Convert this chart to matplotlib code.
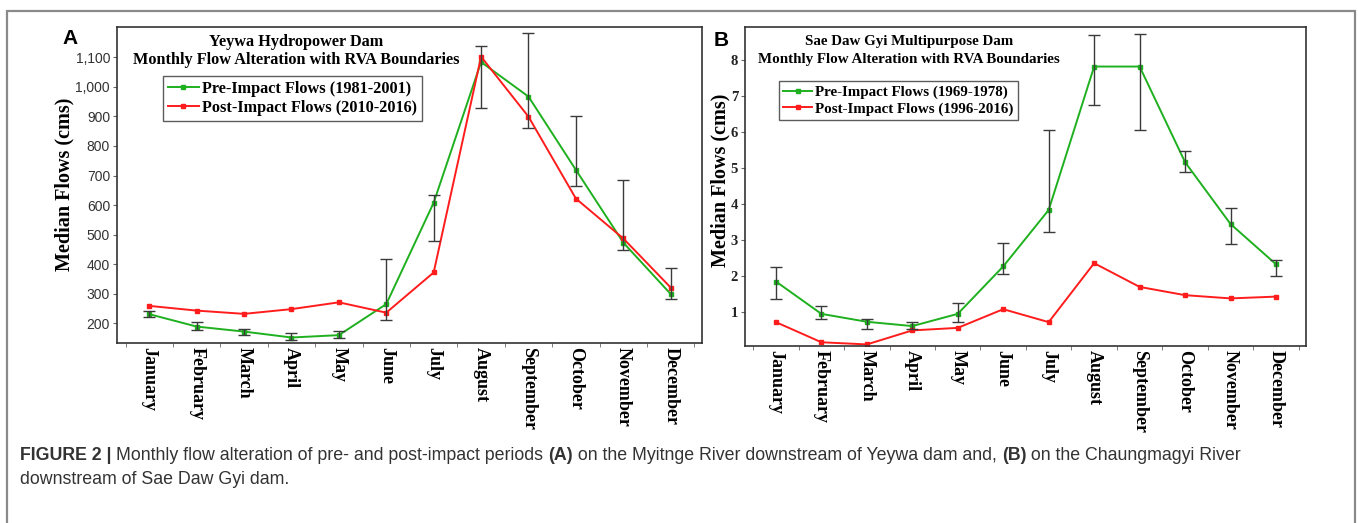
import matplotlib.pyplot as plt
import matplotlib.patches as mpatches
import numpy as np

months = ['January', 'February', 'March', 'April', 'May', 'June', 'July',
          'August', 'September', 'October', 'November', 'December']

# Yeywa dam (cms)
yeywa_pre = np.array([231, 189, 172, 152, 160, 265, 608, 1084, 967, 719, 473, 299])
yeywa_post = np.array([259, 243, 232, 248, 271, 236, 372, 1102, 899, 622, 487, 321])
yeywa_low = np.array([223, 177, 161, 144, 152, 211, 477, 927, 860, 664, 447, 282])
yeywa_high = np.array([240, 206, 180, 168, 174, 419, 635, 1139, 1181, 903, 684, 386])

# Sae Daw Gyi dam (cms)
sae_pre = np.array([1.84, 0.94, 0.72, 0.60, 0.94, 2.26, 3.83, 7.82, 7.82, 5.16, 3.44, 2.32])
sae_post = np.array([0.71, 0.15, 0.09, 0.48, 0.55, 1.07, 0.71, 2.35, 1.69, 1.46, 1.37, 1.42])
sae_low = np.array([1.34, 0.81, 0.53, 0.51, 0.72, 2.06, 3.23, 6.74, 6.05, 4.88, 2.87, 1.98])
sae_high = np.array([2.23, 1.15, 0.79, 0.71, 1.23, 2.91, 6.05, 8.70, 8.73, 5.47, 3.88, 2.43])

GREEN = '#1fb01f'
RED = '#ff1c1c'
SERIF = 'Liberation Serif'
SANS = 'Liberation Sans'

fig = plt.figure(figsize=(13.58, 5.23), dpi=100)
W, H = 1358.0, 523.0


def panel(rect, pre, post, low, high, ylim, yticks, ytl, tick_font,
          title1, title2, tx, ty1, ty2, leg_labels, leg_anchor, fs_title, fs_leg):
    ax = fig.add_axes(rect)
    x = np.arange(len(months))
    ax.errorbar(x, pre, yerr=[pre - low, high - pre], fmt='none', ecolor='#3a3a3a',
                elinewidth=1.0, capsize=4, capthick=1.0, zorder=3)
    ax.plot(x, pre, color=GREEN, lw=1.4, marker='s', ms=3.2, label=leg_labels[0], zorder=2)
    ax.plot(x, post, color=RED, lw=1.4, marker='s', ms=3.2, label=leg_labels[1], zorder=2)
    ax.set_xlim(-0.68, 11.66)
    ax.set_ylim(*ylim)
    ax.set_xticks(x)
    ax.set_xticklabels(months, rotation=270, fontfamily=SERIF, fontweight='bold', fontsize=13)
    ax.set_xticks(np.arange(-0.5, 12, 1), minor=True)
    ax.tick_params(axis='x', which='major', length=0, pad=3)
    ax.tick_params(axis='x', which='minor', length=3, color='#666')
    ax.set_yticks(yticks)
    ax.set_yticklabels(ytl, **tick_font)
    ax.tick_params(axis='y', length=3, color='#666', pad=2)
    for s in ax.spines.values():
        s.set_color('#333333')
        s.set_linewidth(1.2)
    ax.set_ylabel('Median Flows (cms)', fontfamily=SERIF, fontweight='bold', fontsize=14.5)
    ax.text(tx, ty1, title1, transform=ax.transAxes, ha='center', va='center',
            fontfamily=SERIF, fontweight='bold', fontsize=fs_title)
    ax.text(tx, ty2, title2, transform=ax.transAxes, ha='center', va='center',
            fontfamily=SERIF, fontweight='bold', fontsize=fs_title)
    leg = ax.legend(loc='upper left', bbox_to_anchor=leg_anchor, frameon=True, fancybox=False,
                    prop={'family': SERIF, 'weight': 'bold', 'size': fs_leg},
                    handlelength=1.9, handletextpad=0.2, borderpad=0.3, labelspacing=0.2,
                    borderaxespad=0)
    leg.get_frame().set_edgecolor('#333333')
    leg.get_frame().set_linewidth(1.0)
    return ax


axA = panel([117 / W, 1 - 343 / H, 585 / W, 316 / H], yeywa_pre, yeywa_post, yeywa_low, yeywa_high,
            (133.4, 1202.5), np.arange(200, 1101, 100),
            ['{:,}'.format(v) for v in range(200, 1101, 100)],
            {'fontfamily': SANS, 'fontsize': 10, 'color': '#333333'},
            'Yeywa Hydropower Dam', 'Monthly Flow Alteration with RVA Boundaries',
            0.307, 0.953, 0.897,
            ['Pre-Impact Flows (1981-2001)', 'Post-Impact Flows (2010-2016)'],
            (0.0786, 0.845), 11.7, 11.7)
axA.yaxis.set_label_coords(-0.073, 0.503)

axB = panel([745 / W, 1 - 346 / H, 561 / W, 319 / H], sae_pre, sae_post, sae_low, sae_high,
            (0.046, 8.92), np.arange(1, 9), [str(v) for v in range(1, 9)],
            {'fontfamily': SERIF, 'fontweight': 'bold', 'fontsize': 10.5, 'color': '#222222'},
            'Sae Daw Gyi Multipurpose Dam', 'Monthly Flow Alteration with RVA Boundaries',
            0.292, 0.953, 0.897,
            ['Pre-Impact Flows (1969-1978)', 'Post-Impact Flows (1996-2016)'],
            (0.0606, 0.831), 10.8, 10.8)
axB.yaxis.set_label_coords(-0.025, 0.52)

# panel letters
fig.text(70 / W, 1 - 38 / H, 'A', fontfamily=SANS, fontweight='bold', fontsize=15, ha='center', va='center')
fig.text(721 / W, 1 - 40 / H, 'B', fontfamily=SANS, fontweight='bold', fontsize=15, ha='center', va='center')

# outer frame, open at the bottom
fig.add_artist(mpatches.Rectangle((7 / W, -0.2), (1355 - 7) / W, 1.2 - 11 / H, transform=fig.transFigure,
                                  fill=False, edgecolor='#8a8a8a', lw=1.6))

# caption, first line built from normal and bold pieces
pieces = [('FIGURE 2 | ', 'bold'),
          ('Monthly flow alteration of pre- and post-impact periods ', 'normal'),
          ('(A)', 'bold'),
          (' on the Myitnge River downstream of Yeywa dam and, ', 'normal'),
          ('(B)', 'bold'),
          (' on the Chaungmagyi River', 'normal')]
cap_size = 12.8
xpos = 20.0
for txt, wt in pieces:
    t = fig.text(xpos / W, 1 - 456 / H, txt, fontfamily=SANS, fontweight=wt, fontsize=cap_size,
                 color='#333333', va='center')
    fig.canvas.draw()
    xpos = t.get_window_extent().x1
fig.text(20 / W, 1 - 480 / H, 'downstream of Sae Daw Gyi dam.', fontfamily=SANS, fontsize=cap_size,
         color='#333333', va='center')

fig.savefig('out.png', dpi=100)
